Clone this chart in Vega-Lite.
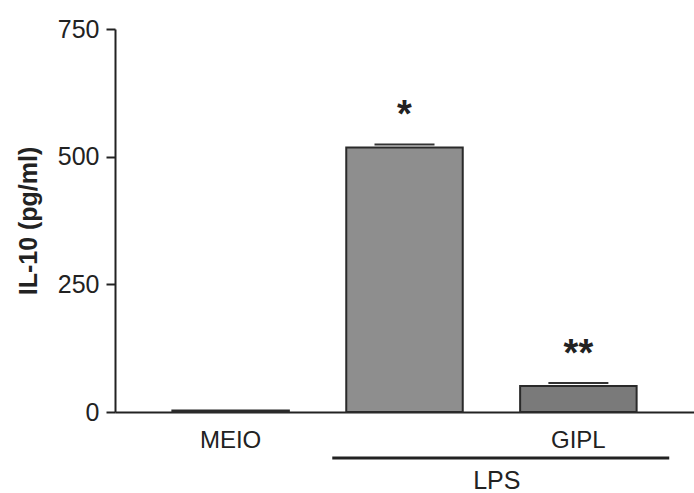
{
  "$schema": "https://vega.github.io/schema/vega-lite/v6.json",
  "width": 579,
  "height": 383,
  "autosize": {"type": "none"},
  "padding": {"left": 115, "top": 29, "right": 0, "bottom": 81},
  "background": "white",
  "config": {
    "view": {"stroke": null},
    "font": "Liberation Sans"
  },
  "datasets": {
    "bars": [
      {"group": "MEIO", "value": 3, "hi": null, "star": ""},
      {"group": "LPS", "value": 518, "hi": 524, "star": "*"},
      {"group": "GIPL", "value": 51, "hi": 57, "star": "**"}
    ],
    "bracket": [
      {"from": "LPS", "to": "GIPL", "ypos": -90, "tpos": -135, "text": "LPS"}
    ]
  },
  "layer": [
    {
      "data": {"name": "bars"},
      "mark": {"type": "bar", "stroke": "#2a2a2a", "strokeWidth": 2},
      "encoding": {
        "x": {
          "field": "group", "type": "nominal",
          "scale": {"domain": ["MEIO", "LPS", "GIPL"], "paddingInner": 0.33, "paddingOuter": 0.33},
          "axis": {
            "title": null, "ticks": false, "labelAngle": 0,
            "labelExpr": "datum.value == 'LPS' ? '' : datum.value",
            "labelFontSize": 24, "labelColor": "#222", "labelPadding": 16,
            "domainColor": "#222", "domainWidth": 2
          }
        },
        "y": {
          "field": "value", "type": "quantitative",
          "scale": {"domain": [0, 750], "nice": false},
          "axis": {
            "title": "IL-10 (pg/ml)", "titleFontSize": 25, "titleFontWeight": "bold",
            "titleColor": "#222", "titlePadding": 16,
            "values": [0, 250, 500, 750], "grid": false,
            "labelFontSize": 25, "labelColor": "#222", "labelPadding": 7,
            "tickSize": 9, "tickColor": "#222", "tickWidth": 2,
            "domainColor": "#222", "domainWidth": 2
          }
        },
        "color": {
          "field": "group", "type": "nominal", "legend": null,
          "scale": {"domain": ["MEIO", "LPS", "GIPL"], "range": ["#333333", "#8e8e8e", "#7a7a7a"]}
        }
      }
    },
    {
      "data": {"name": "bars"},
      "transform": [{"filter": "datum.hi != null"}],
      "mark": {"type": "tick", "color": "#333", "opacity": 1, "thickness": 2, "size": 60},
      "encoding": {
        "x": {"field": "group", "type": "nominal"},
        "y": {"field": "hi", "type": "quantitative"}
      }
    },
    {
      "data": {"name": "bars"},
      "transform": [{"filter": "datum.hi != null"}],
      "mark": {"type": "text", "fontSize": 38, "fontWeight": "bold", "color": "#222", "baseline": "middle", "dy": -28},
      "encoding": {
        "x": {"field": "group", "type": "nominal"},
        "y": {"field": "hi", "type": "quantitative"},
        "text": {"field": "star"}
      }
    },
    {
      "data": {"name": "bracket"},
      "mark": {"type": "rule", "color": "#222", "strokeWidth": 3},
      "encoding": {
        "x": {"field": "from", "type": "nominal", "bandPosition": -0.12},
        "x2": {"field": "to", "bandPosition": 1.28},
        "y": {"field": "ypos", "type": "quantitative"}
      }
    },
    {
      "data": {"name": "bracket"},
      "mark": {"type": "text", "fontSize": 25, "color": "#222", "baseline": "middle"},
      "encoding": {
        "x": {"field": "to", "type": "nominal", "bandPosition": -0.2},
        "y": {"field": "tpos", "type": "quantitative"},
        "text": {"field": "text"}
      }
    }
  ]
}
